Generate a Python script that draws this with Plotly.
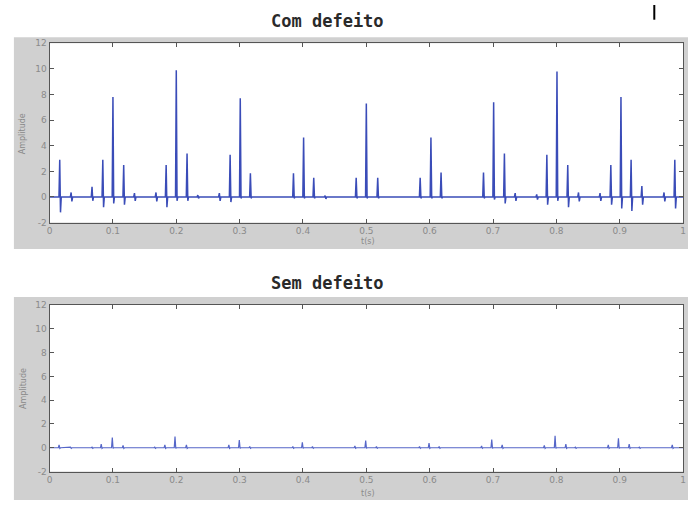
import plotly.graph_objects as go

# ---- data ----
x_ticks = [0, 0.1, 0.2, 0.3, 0.4, 0.5, 0.6, 0.7, 0.8, 0.9, 1]
x_tick_labels = ["0", "0.1", "0.2", "0.3", "0.4", "0.5", "0.6", "0.7", "0.8", "0.9", "1"]
y_ticks = [-2, 0, 2, 4, 6, 8, 10, 12]
y_tick_labels = ["-2", "0", "2", "4", "6", "8", "10", "12"]

# "Com defeito": event times, positive peaks, negative dips
com_t = [0.016, 0.034, 0.067, 0.084, 0.100, 0.117, 0.134, 0.168, 0.184, 0.200,
         0.217, 0.234, 0.268, 0.285, 0.301, 0.317, 0.385, 0.401, 0.417, 0.435,
         0.484, 0.500, 0.518, 0.585, 0.602, 0.618, 0.685, 0.701, 0.718, 0.735,
         0.769, 0.785, 0.801, 0.818, 0.835, 0.869, 0.886, 0.902, 0.918, 0.935,
         0.970, 0.987]
com_peak = [2.9, 0.35, 0.8, 2.9, 7.8, 2.5, 0.3, 0.35, 2.5, 9.9,
            3.4, 0.15, 0.3, 3.3, 7.7, 1.85, 1.85, 4.65, 1.5, 0.1,
            1.5, 7.3, 1.5, 1.5, 4.65, 1.9, 1.9, 7.4, 3.4, 0.3,
            0.2, 3.3, 9.8, 2.5, 0.35, 0.3, 2.5, 7.8, 2.9, 0.85,
            0.35, 2.9]
com_dip = [-1.2, -0.35, -0.3, -0.8, -0.5, -0.6, -0.3, -0.35, -0.8, -0.3,
           -0.3, -0.1, -0.3, -0.4, -0.1, -0.1, -0.1, -0.1, -0.1, -0.15,
           -0.1, -0.1, -0.1, -0.1, -0.1, -0.1, -0.1, -0.2, -0.5, -0.3,
           -0.2, -0.6, -0.3, -0.8, -0.35, -0.3, -0.6, -0.9, -1.1, -0.6,
           -0.35, -0.9]

# "Sem defeito": event times and peaks
sem_t = [0.015, 0.033, 0.067, 0.0815, 0.099, 0.116, 0.166, 0.182, 0.198, 0.216,
         0.283, 0.2995, 0.316, 0.384, 0.399, 0.415, 0.482, 0.499, 0.516, 0.584,
         0.599, 0.615, 0.682, 0.698, 0.7145, 0.781, 0.798, 0.815, 0.830, 0.882,
         0.898, 0.915, 0.931, 0.983]
sem_peak = [0.25, 0.05, 0.05, 0.3, 0.85, 0.2, 0.05, 0.25, 0.95, 0.25,
            0.25, 0.65, 0.1, 0.1, 0.45, 0.1, 0.15, 0.6, 0.1, 0.1,
            0.4, 0.1, 0.15, 0.7, 0.25, 0.2, 1.0, 0.3, 0.05, 0.25,
            0.8, 0.3, 0.05, 0.25]
sem_dip = [-0.05] * len(sem_t)

SPIKE_HALF = 0.0012  # visual spike half-width


def build_signal(times, peaks, dips):
    xs, ys = [0.0], [0.0]
    for t, p, d in zip(times, peaks, dips):
        xs += [t - SPIKE_HALF, t, t + SPIKE_HALF, t + 2 * SPIKE_HALF]
        ys += [0.0, p, d, 0.0]
    xs.append(1.0)
    ys.append(0.0)
    return xs, ys


W, H = 691, 505
line_color = "#3a4cb8"

fig = go.Figure()
cx, cy = build_signal(com_t, com_peak, com_dip)
sx, sy = build_signal(sem_t, sem_peak, sem_dip)
fig.add_trace(go.Scatter(x=cx, y=cy, mode="lines", line=dict(color=line_color, width=1.5),
                         xaxis="x", yaxis="y", showlegend=False, hoverinfo="skip"))
fig.add_trace(go.Scatter(x=sx, y=sy, mode="lines", line=dict(color="#5566c8", width=1.2),
                         xaxis="x2", yaxis="y2", showlegend=False, hoverinfo="skip"))

xdom = [47 / W, 686 / W]
ydom_top = [(H - 222) / H, (H - 39) / H]
ydom_bot = [(H - 476) / H, (H - 306) / H]

tickfont = dict(family="DejaVu Sans", size=9, color="#8a8a8a")
axis_common = dict(showgrid=False, zeroline=False, showline=True, linecolor="#555555",
                   linewidth=1, mirror="ticks", ticks="inside", ticklen=4,
                   tickcolor="#555555", tickfont=tickfont)

fig.update_layout(
    width=W, height=H,
    margin=dict(l=0, r=0, t=0, b=0),
    paper_bgcolor="white", plot_bgcolor="white",
    xaxis=dict(domain=xdom, range=[0, 1], tickvals=x_ticks, ticktext=x_tick_labels,
               anchor="y", **axis_common),
    yaxis=dict(domain=ydom_top, range=[-2, 12], tickvals=y_ticks, ticktext=y_tick_labels,
               anchor="x", **axis_common),
    xaxis2=dict(domain=xdom, range=[0, 1], tickvals=x_ticks, ticktext=x_tick_labels,
                anchor="y2", **axis_common),
    yaxis2=dict(domain=ydom_bot, range=[-2, 12], tickvals=y_ticks, ticktext=y_tick_labels,
                anchor="x2", **axis_common),
)

# grey figure panels behind each axes
fig.add_shape(type="rect", xref="paper", yref="paper", x0=11 / W, x1=1, y0=(H - 249) / H,
              y1=(H - 33) / H, fillcolor="#d0d0d0", line=dict(width=0), layer="below")
fig.add_shape(type="rect", xref="paper", yref="paper", x0=11 / W, x1=1, y0=0,
              y1=(H - 298) / H, fillcolor="#d0d0d0", line=dict(width=0), layer="below")
# white plotting areas
fig.add_shape(type="rect", xref="paper", yref="paper", x0=xdom[0], x1=xdom[1], y0=ydom_top[0],
              y1=ydom_top[1], fillcolor="white", line=dict(width=0), layer="below")
fig.add_shape(type="rect", xref="paper", yref="paper", x0=xdom[0], x1=xdom[1], y0=ydom_bot[0],
              y1=ydom_bot[1], fillcolor="white", line=dict(width=0), layer="below")
# small black cursor mark at top
fig.add_shape(type="line", xref="paper", yref="paper", x0=657 / W, x1=657 / W, y0=1,
              y1=(H - 15) / H, line=dict(color="black", width=2))

title_font = dict(family="DejaVu Sans Mono", size=17, color="#2a2a2a")
lab_font = dict(family="DejaVu Sans", size=8, color="#8a8a8a")
ann = [
    dict(text="<b>Com defeito</b>", x=327 / W, y=(H - 16) / H, font=title_font),
    dict(text="<b>Sem defeito</b>", x=327 / W, y=(H - 284) / H, font=title_font),
    dict(text="t(s)", x=368 / W, y=(H - 241) / H, font=lab_font),
    dict(text="t(s)", x=368 / W, y=(H - 498) / H, font=lab_font),
    dict(text="Amplitude", x=20 / W, y=(H - 131) / H, font=lab_font, textangle=-90),
    dict(text="Amplitude", x=20 / W, y=(H - 391) / H, font=lab_font, textangle=-90),
]
for a in ann:
    fig.add_annotation(xref="paper", yref="paper", showarrow=False,
                       xanchor="center", yanchor="middle", **a)

fig.write_html("out.html", config={"displayModeBar": False})

# remove the default page margin so the figure sits at the window origin
with open("out.html", "r", encoding="utf-8") as f:
    html = f.read()
html = html.replace("<head>", "<head><style>html,body{margin:0;padding:0;overflow:hidden;}</style>", 1)
with open("out.html", "w", encoding="utf-8") as f:
    f.write(html)
